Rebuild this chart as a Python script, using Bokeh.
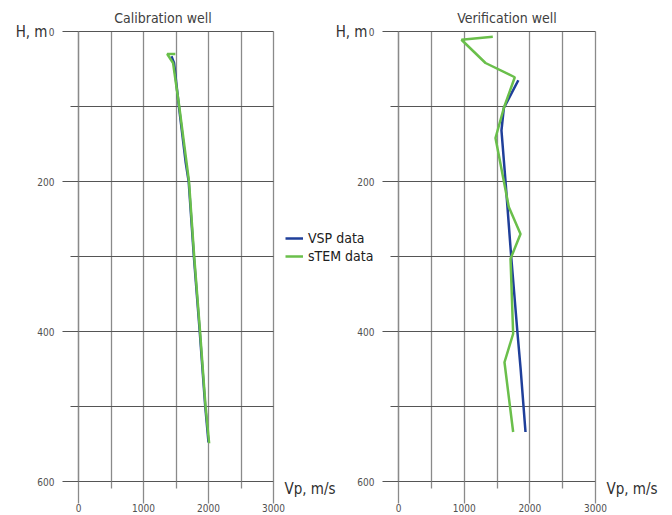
from bokeh.plotting import figure
from bokeh.models import (Range1d, FixedTicker, Label, Legend, LegendItem,
                          LinearAxis, Grid)
from bokeh.embed import file_html
from bokeh.resources import INLINE

# ---- data ----
x_ticks = [0, 1000, 2000, 3000]
x_minor = [500, 1500, 2500]
y_ticks = [0, 200, 400, 600]
y_minor = [100, 300, 500]

cal_vsp_depth = [33, 42, 100, 150, 175, 200, 300, 400, 500, 548]
cal_vsp_vp = [1430, 1470, 1545, 1615, 1650, 1695, 1775, 1865, 1950, 2000]
cal_stem_depth = [30, 30, 42, 100, 180, 200, 300, 400, 500, 549]
cal_stem_vp = [1490, 1365, 1455, 1550, 1670, 1700, 1780, 1870, 1955, 2010]

ver_vsp_depth = [65, 102, 132, 200, 300, 400, 450, 534]
ver_vsp_vp = [1825, 1604, 1568, 1630, 1716, 1810, 1860, 1934]
ver_stem_depth = [7, 11, 42, 61, 102, 142, 234, 270, 303, 403, 441, 534]
ver_stem_vp = [1436, 959, 1325, 1771, 1604, 1477, 1680, 1858, 1706, 1746, 1614, 1746]

# ---- layout (pixels) ----
W, H = 672, 515
LX0, LX1 = 78, 273      # left panel: x=0 .. x=3000
RX0, RX1 = 398, 595     # right panel
PY0, PY1 = 31, 481      # depth 0 .. 600
XMAX, YMAX = 3000, 600

FONT = "DejaVu Sans Condensed"
VGRID = "#8a8a8a"   # vertical lines
HGRID = "#555555"   # horizontal lines
TXT = "#505050"
BLUE = "#1F3F9A"
GREEN = "#6ABF4B"


def xr(p0, p1):
    s = XMAX / (p1 - p0)
    return Range1d(-p0 * s, XMAX + (W - p1) * s)


sy = YMAX / (PY1 - PY0)
p = figure(width=W, height=H, x_range=xr(LX0, LX1),
           y_range=Range1d(YMAX + (H - PY1) * sy, -PY0 * sy),
           output_backend="svg", toolbar_location=None, min_border=0,
           x_axis_type=None, y_axis_type=None)
p.extra_x_ranges = {"r": xr(RX0, RX1)}
p.outline_line_color = None
p.xgrid.visible = False
p.ygrid.visible = False
p.background_fill_color = "white"
p.border_fill_color = "white"

has_cross = "cross_bounds" in Grid.properties()

for rn in ("default", "r"):
    # grid
    g1 = Grid(dimension=0, ticker=FixedTicker(ticks=x_ticks + x_minor),
              x_range_name=rn, bounds=(0, XMAX), grid_line_color=VGRID,
              grid_line_width=1.3)
    g2 = Grid(dimension=1, ticker=FixedTicker(ticks=y_ticks + y_minor),
              x_range_name=rn, bounds=(0, YMAX), grid_line_color=HGRID)
    if has_cross:
        g1.cross_bounds = (0, YMAX)
        g2.cross_bounds = (0, XMAX)
        p.add_layout(g1)
        p.add_layout(g2)
    else:
        xs = x_ticks + x_minor
        ys = y_ticks + y_minor
        p.segment(x0=xs, y0=[0] * len(xs), x1=xs, y1=[YMAX] * len(xs),
                  line_color=VGRID, line_width=1.3, x_range_name=rn)
        p.segment(x0=[0] * len(ys), y0=ys, x1=[XMAX] * len(ys), y1=ys,
                  line_color=HGRID, x_range_name=rn)

    xa = LinearAxis(x_range_name=rn, fixed_location=YMAX, bounds=(0, XMAX),
                    ticker=FixedTicker(ticks=x_ticks, minor_ticks=x_minor))
    ya = LinearAxis(x_range_name=rn, fixed_location=0, bounds=(0, YMAX),
                    ticker=FixedTicker(ticks=y_ticks, minor_ticks=y_minor))
    for ax in (xa, ya):
        ax.major_tick_in = 0
        ax.minor_tick_in = 0
        ax.major_label_text_font = FONT
        ax.major_label_text_font_size = "10px"
        ax.major_label_text_color = TXT
    xa.axis_line_color = HGRID
    xa.major_tick_line_color = VGRID
    xa.minor_tick_line_color = VGRID
    xa.major_tick_line_width = 1.3
    xa.minor_tick_line_width = 1.3
    ya.axis_line_color = VGRID
    ya.axis_line_width = 1.3
    ya.major_tick_line_color = HGRID
    ya.minor_tick_line_color = HGRID
    xa.major_tick_out = 22
    xa.minor_tick_out = 7
    xa.major_label_standoff = 0
    ya.major_tick_out = 16
    ya.minor_tick_out = 8
    ya.major_label_standoff = 8
    p.add_layout(xa, "below")
    p.add_layout(ya, "left")

    p.add_layout(Label(x=0, y=0, x_range_name=rn, x_offset=-31, text="H, m",
                       text_align="right", text_baseline="middle",
                       text_font=FONT, text_font_size="15px",
                       text_color="#303030"))
    p.add_layout(Label(x=XMAX, y=YMAX, x_range_name=rn, x_offset=11,
                       y_offset=-7, text="Vp, m/s", text_align="left",
                       text_baseline="middle", text_font=FONT,
                       text_font_size="15px", text_color="#303030"))

p.add_layout(Label(x=XMAX / 2, y=0, x_offset=-13, y_offset=14,
                   text="Calibration well", text_align="center",
                   text_baseline="middle", text_font=FONT,
                   text_font_size="14px", text_color="#404040"))
p.add_layout(Label(x=XMAX / 2, y=0, x_range_name="r", x_offset=10,
                   y_offset=14, text="Verification well",
                   text_align="center", text_baseline="middle",
                   text_font=FONT, text_font_size="14px",
                   text_color="#404040"))

p.line(cal_vsp_vp, cal_vsp_depth, line_color=BLUE, line_width=2.5)
p.line(cal_stem_vp, cal_stem_depth, line_color=GREEN, line_width=2.5)
r_vsp = p.line(ver_vsp_vp, ver_vsp_depth, line_color=BLUE, line_width=2.5,
               x_range_name="r")
r_stem = p.line(ver_stem_vp, ver_stem_depth, line_color=GREEN,
                line_width=2.5, x_range_name="r")

legend = Legend(items=[LegendItem(label="VSP data", renderers=[r_vsp]),
                       LegendItem(label="sTEM data", renderers=[r_stem])],
                location=(285, 251))
legend.background_fill_alpha = 0
legend.border_line_color = None
legend.padding = 0
legend.margin = 0
legend.spacing = 2
legend.glyph_width = 18
legend.glyph_height = 16
legend.label_height = 16
legend.label_standoff = 5
legend.label_text_font = FONT
legend.label_text_font_size = "14px"
legend.label_text_color = "#202020"
p.add_layout(legend)

open("out.html", "w").write(file_html(p, INLINE))
